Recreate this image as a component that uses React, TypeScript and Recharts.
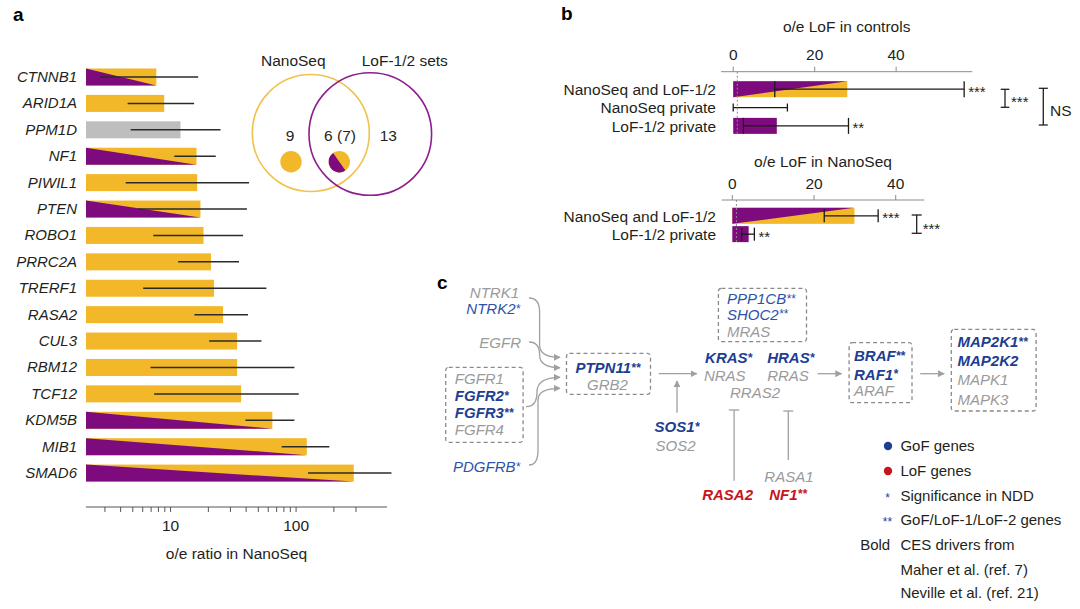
import React from 'react';
import { BarChart, Bar, XAxis, YAxis, ErrorBar, ReferenceLine, ReferenceDot } from 'recharts';

const FONT = '"Liberation Sans", Arial, Helvetica, sans-serif';
const YELLOW = '#F2B829';
const PURPLE = '#7D0B7D';
const GRAY_BAR = '#BEBEBE';
const INK = '#231F20';
const BLUE = '#1D3E92';
const BLUE_LIGHT = '#2D52AA';
const RED = '#C8141C';
const GRAY_TXT = '#9A9A9A';
const LINE_GRAY = '#A0A0A0';

// ---------- Panel a data ----------
const genesA = ['CTNNB1', 'ARID1A', 'PPM1D', 'NF1', 'PIWIL1', 'PTEN', 'ROBO1', 'PRRC2A', 'TRERF1', 'RASA2', 'CUL3', 'RBM12', 'TCF12', 'KDM5B', 'MIB1', 'SMAD6'];
const oeA = [7.7, 8.9, 12.0, 16.1, 16.3, 17.3, 18.3, 21.0, 22.2, 26.2, 33.9, 33.9, 36.5, 64.7, 121.7, 288];
const lowA = [2.74, 4.55, 4.81, 10.7, 4.39, 5.52, 7.28, 11.5, 6.05, 15.5, 20.3, 6.93, 7.4, 39.5, 76.8, 124.5];
const highA = [16.6, 15.4, 25, 22.9, 42.2, 40.6, 37.8, 35.1, 58, 41.4, 53, 97, 105, 97, 184, 575];
const setA = ['both', 'nano', 'other', 'both', 'nano', 'both', 'nano', 'nano', 'nano', 'nano', 'nano', 'nano', 'nano', 'both', 'both', 'both'];
const ticksA = [3, 4, 5, 6, 7, 8, 9, 10, 20, 30, 40, 50, 60, 70, 80, 90, 100, 200, 300];
const labelledTicksA = [10, 100];

// ---------- Panel b data ----------
const groupsBTop = ['NanoSeq and LoF-1/2', 'NanoSeq private', 'LoF-1/2 private'];
const valueBTop = [28.0, 0, 10.7];
const lowBTop = [10.2, 0, 2.5];
const highBTop = [56.7, 13.3, 28.3];
const kindBTop = ['split', 'none', 'purple'];
const starsBTop = ['***', '', '**'];
const ticksB = [0, 20, 40];

const groupsBBot = ['NanoSeq and LoF-1/2', 'LoF-1/2 private'];
const valueBBot = [29.9, 4.0];
const lowBBot = [22.5, 2.3];
const highBBot = [35.7, 5.4];
const kindBBot = ['split', 'purple'];
const starsBBot = ['***', '**'];

const dataA = genesA.map((g, i) => ({
  gene: g,
  oe: oeA[i],
  err: [oeA[i] - lowA[i], highA[i] - oeA[i]],
  set: setA[i],
}));

const buildB = (groups: string[], vals: number[], lows: number[], highs: number[], kinds: string[], stars: string[]) =>
  groups.map((g, i) => {
    const e = [vals[i] - lows[i], highs[i] - vals[i]];
    return {
      group: g,
      value: vals[i],
      err: kinds[i] !== 'none' ? e : undefined,
      err2: kinds[i] === 'none' ? e : undefined,
      high: highs[i],
      kind: kinds[i],
      stars: stars[i],
    };
  });

const dataBTop = buildB(groupsBTop, valueBTop, lowBTop, highBTop, kindBTop, starsBTop);
const dataBBot = buildB(groupsBBot, valueBBot, lowBBot, highBBot, kindBBot, starsBBot);

const ShapeA = (props: any) => {
  const { x, y, width, height, payload } = props;
  if (!width || width <= 0) return null;
  const fill = payload.set === 'other' ? GRAY_BAR : YELLOW;
  return (
    <g>
      <rect x={x} y={y} width={width} height={height} fill={fill} />
      {payload.set === 'both' && (
        <polygon points={`${x},${y} ${x},${y + height} ${x + width},${y + height}`} fill={PURPLE} />
      )}
    </g>
  );
};

const ShapeB = (props: any) => {
  const { x, y, width, height, payload } = props;
  if (!width || width <= 0.5) return null;
  if (payload.kind === 'split') {
    return (
      <g>
        <rect x={x} y={y} width={width} height={height} fill={YELLOW} />
        <polygon points={`${x},${y} ${x + width},${y} ${x},${y + height}`} fill={PURPLE} />
      </g>
    );
  }
  return <rect x={x} y={y} width={width} height={height} fill={PURPLE} />;
};

const Gene = ({ x, y, name, stars = '', color, bold = false, anchor = 'start', size = 15 }: any) => (
  <text x={x} y={y + size * 0.36} textAnchor={anchor} fontStyle="italic" fontWeight={bold ? 700 : 400} fill={color} fontSize={size}>
    {name}
    {stars ? (
      <tspan fontSize={size * 0.8} dy={-1.5}>
        {stars}
      </tspan>
    ) : null}
  </text>
);

const pathwayNodes = [
  { name: 'NTRK1', x: 519, y: 292.7, anchor: 'end', color: GRAY_TXT },
  { name: 'NTRK2', stars: '*', x: 520.2, y: 309, anchor: 'end', color: BLUE_LIGHT },
  { name: 'EGFR', x: 521, y: 342.3, anchor: 'end', color: GRAY_TXT },
  { name: 'FGFR1', x: 454.8, y: 379, color: GRAY_TXT },
  { name: 'FGFR2', stars: '*', x: 454.8, y: 396, color: BLUE, bold: true },
  { name: 'FGFR3', stars: '**', x: 454.8, y: 412.7, color: BLUE, bold: true },
  { name: 'FGFR4', x: 454.8, y: 430, color: GRAY_TXT },
  { name: 'PDGFRB', stars: '*', x: 520.2, y: 466.7, anchor: 'end', color: BLUE_LIGHT },
  { name: 'PTPN11', stars: '**', x: 607.9, y: 367.7, anchor: 'middle', color: BLUE, bold: true },
  { name: 'GRB2', x: 607.5, y: 384.3, anchor: 'middle', color: GRAY_TXT },
  { name: 'PPP1CB', stars: '**', x: 727, y: 299, color: BLUE_LIGHT },
  { name: 'SHOC2', stars: '**', x: 727, y: 314.3, color: BLUE_LIGHT },
  { name: 'MRAS', x: 727, y: 331.7, color: GRAY_TXT },
  { name: 'KRAS', stars: '*', x: 705.1, y: 357.7, color: BLUE, bold: true },
  { name: 'HRAS', stars: '*', x: 767.2, y: 357.7, color: BLUE, bold: true },
  { name: 'NRAS', x: 703.9, y: 375.3, color: GRAY_TXT },
  { name: 'RRAS', x: 767.2, y: 375.3, color: GRAY_TXT },
  { name: 'RRAS2', x: 730, y: 392.3, color: GRAY_TXT },
  { name: 'SOS1', stars: '*', x: 654.6, y: 426.7, color: BLUE, bold: true },
  { name: 'SOS2', x: 655.5, y: 445.7, color: GRAY_TXT },
  { name: 'RASA1', x: 764.3, y: 476.7, color: GRAY_TXT },
  { name: 'RASA2', x: 702.2, y: 494.3, color: RED, bold: true },
  { name: 'NF1', stars: '**', x: 769.2, y: 494.3, color: RED, bold: true },
  { name: 'BRAF', stars: '**', x: 854, y: 356, color: BLUE, bold: true },
  { name: 'RAF1', stars: '*', x: 854, y: 374.3, color: BLUE, bold: true },
  { name: 'ARAF', x: 854, y: 391, color: GRAY_TXT },
  { name: 'MAP2K1', stars: '**', x: 957.5, y: 341.7, color: BLUE, bold: true },
  { name: 'MAP2K2', x: 957.5, y: 360.7, color: BLUE, bold: true },
  { name: 'MAPK1', x: 957.5, y: 380, color: GRAY_TXT },
  { name: 'MAPK3', x: 957.5, y: 399.3, color: GRAY_TXT },
];

const Bracket = ({ x, y1, y2, half }: any) => (
  <g stroke={INK} strokeWidth={1.3}>
    <line x1={x} y1={y1} x2={x} y2={y2} />
    <line x1={x - half} y1={y1} x2={x + half} y2={y1} />
    <line x1={x - half} y1={y2} x2={x + half} y2={y2} />
  </g>
);

const splitDot = (cx: number, cy: number, r: number) => {
  const a = (125 * Math.PI) / 180;
  const x1 = cx + r * Math.cos(a);
  const y1 = cy - r * Math.sin(a);
  const x2 = cx - r * Math.cos(a);
  const y2 = cy + r * Math.sin(a);
  return `M${x1},${y1} A${r},${r} 0 0 0 ${x2},${y2} Z`;
};

export default function App() {
  const axisTick = { fontSize: 15.5, fill: INK };
  const LEG = 15;
  return (
    <div style={{ position: 'absolute', left: 0, top: 0, width: 1080, height: 609, background: '#fff', overflow: 'hidden', fontFamily: FONT }}>
      {/* Panel a bar chart */}
      <div style={{ position: 'absolute', left: 0, top: 0 }}>
        <BarChart width={420} height={609} data={dataA} layout="vertical" margin={{ top: 63.5, right: 33, bottom: 42, left: 0 }} barSize={17}>
          <XAxis
            type="number"
            scale="log"
            domain={[2.12, 530]}
            allowDataOverflow
            ticks={ticksA}
            interval={0}
            tickFormatter={(v: number) => (labelledTicksA.includes(v) ? String(v) : '')}
            height={60}
            tickSize={5}
            tickMargin={8}
            stroke="#555"
            tick={axisTick}
            label={{ value: 'o/e ratio in NanoSeq', position: 'insideBottom', offset: 8.5, fontSize: 15.5, fill: INK }}
          />
          <YAxis
            type="category"
            dataKey="gene"
            width={86}
            tickSize={0}
            tickMargin={9}
            axisLine={false}
            tickLine={false}
            padding={{ top: 0, bottom: 21 }}
            interval={0}
            tick={{ fontSize: 15, fontStyle: 'italic', fill: INK }}
          />
          <Bar dataKey="oe" shape={ShapeA} isAnimationActive={false}>
            <ErrorBar dataKey="err" direction="x" width={0} stroke="#2b2b2b" strokeWidth={1.5} isAnimationActive={false} />
          </Bar>
        </BarChart>
      </div>

      {/* Panel b top */}
      <div style={{ position: 'absolute', left: 560, top: 0 }}>
        <BarChart width={520} height={150} data={dataBTop} layout="vertical" margin={{ top: 15.7, right: 107.7, bottom: 14.8, left: 0 }} barSize={16}>
          <XAxis
            type="number"
            orientation="top"
            domain={[-3, 58.7]}
            allowDataOverflow
            ticks={ticksB}
            interval={0}
            height={56}
            tickSize={5}
            tickMargin={7}
            stroke="#8c8c8c"
            tick={axisTick}
            label={{ value: 'o/e LoF in controls', position: 'insideTop', offset: 5, fontSize: 15.5, fill: INK }}
          />
          <YAxis type="category" dataKey="group" width={161} tickSize={0} tickMargin={5} axisLine={false} tickLine={false} padding={{ top: 8.5, bottom: 0 }} interval={0} tick={axisTick} />
          <Bar dataKey="value" shape={ShapeB} isAnimationActive={false}>
            <ErrorBar dataKey="err" direction="x" width={8} stroke="#1a1a1a" strokeWidth={1.3} isAnimationActive={false} />
            <ErrorBar dataKey="err2" direction="x" width={4} stroke="#1a1a1a" strokeWidth={1.3} isAnimationActive={false} />
          </Bar>
          <ReferenceLine x={1} stroke="#8c8c8c" strokeDasharray="2 2" />
          {dataBTop
            .filter((d) => d.stars)
            .map((d) => (
              <ReferenceDot key={d.group} x={d.high} y={d.group} r={0} fill="none" stroke="none" label={{ value: d.stars, position: 'right', offset: 4, fontSize: 15, fill: INK, dy: 2 }} />
            ))}
        </BarChart>
      </div>

      {/* Panel b bottom */}
      <div style={{ position: 'absolute', left: 560, top: 140 }}>
        <BarChart width={520} height={110} data={dataBBot} layout="vertical" margin={{ top: 10, right: 155.7, bottom: 6.55, left: 0 }} barSize={16}>
          <XAxis
            type="number"
            orientation="top"
            domain={[-2.6, 47]}
            allowDataOverflow
            ticks={ticksB}
            interval={0}
            height={50}
            tickSize={5}
            tickMargin={6}
            stroke="#8c8c8c"
            tick={axisTick}
            label={{ value: 'o/e LoF in NanoSeq', position: 'insideTop', offset: 6.2, fontSize: 15.5, fill: INK }}
          />
          <YAxis type="category" dataKey="group" width={161.7} tickSize={0} tickMargin={5.7} axisLine={false} tickLine={false} padding={{ top: 6.85, bottom: 0 }} interval={0} tick={axisTick} />
          <Bar dataKey="value" shape={ShapeB} isAnimationActive={false}>
            <ErrorBar dataKey="err" direction="x" width={6.5} stroke="#1a1a1a" strokeWidth={1.3} isAnimationActive={false} />
          </Bar>
          <ReferenceLine x={1} stroke="#8c8c8c" strokeDasharray="2 2" />
          {dataBBot
            .filter((d) => d.stars)
            .map((d) => (
              <ReferenceDot key={d.group} x={d.high} y={d.group} r={0} fill="none" stroke="none" label={{ value: d.stars, position: 'right', offset: 4, fontSize: 15, fill: INK, dy: 2 }} />
            ))}
        </BarChart>
      </div>

      {/* Overlay: letters, Venn, brackets, pathway */}
      <svg width={1080} height={609} style={{ position: 'absolute', left: 0, top: 0, pointerEvents: 'none' }} fontFamily={FONT}>
        <defs>
          <marker id="ah" viewBox="0 0 10 10" refX="9" refY="5" markerWidth="7" markerHeight="7" markerUnits="userSpaceOnUse" orient="auto">
            <path d="M0,0 L10,5 L0,10 z" fill={LINE_GRAY} />
          </marker>
        </defs>

        <text x={13} y={20.5} fontSize={19} fontWeight={700} fill="#000">a</text>
        <text x={561} y={20} fontSize={19} fontWeight={700} fill="#000">b</text>
        <text x={437} y={289} fontSize={19} fontWeight={700} fill="#000">c</text>

        {/* Venn */}
        <circle cx={310.8} cy={133} r={58.5} fill="none" stroke="#F0C24F" strokeWidth={1.6} />
        <circle cx={370.3} cy={134} r={61.3} fill="none" stroke="#8E1D8E" strokeWidth={1.6} />
        <text x={293.3} y={60.7} fontSize={15.5} fill={INK} textAnchor="middle" dominantBaseline="central">NanoSeq</text>
        <text x={361.7} y={60.7} fontSize={15.5} fill={INK} dominantBaseline="central">LoF-1/2 sets</text>
        <text x={290} y={135.7} fontSize={15.5} fill={INK} textAnchor="middle" dominantBaseline="central">9</text>
        <text x={340} y={135.7} fontSize={15.5} fill={INK} textAnchor="middle" dominantBaseline="central">6 (7)</text>
        <text x={388.3} y={135.7} fontSize={15.5} fill={INK} textAnchor="middle" dominantBaseline="central">13</text>
        <circle cx={291} cy={161.7} r={10.7} fill={YELLOW} />
        <circle cx={339.3} cy={161.7} r={10.7} fill={YELLOW} />
        <path d={splitDot(339.3, 161.7, 10.7)} fill={PURPLE} />

        {/* Panel b brackets */}
        <Bracket x={1005} y1={89.3} y2={107.3} half={4.3} />
        <text x={1011} y={107} fontSize={15} fill={INK}>***</text>
        <Bracket x={1043.3} y1={88.3} y2={125} half={4.5} />
        <text x={1050} y={110} fontSize={15.5} fill={INK} dominantBaseline="central">NS</text>
        <Bracket x={916.7} y1={215} y2={233.3} half={5} />
        <text x={922.7} y={233.7} fontSize={15} fill={INK}>***</text>

        {/* Panel c boxes */}
        <g fill="none" stroke="#8a8a8a" strokeWidth={1.3} strokeDasharray="4 3">
          <rect x={445.7} y={367.3} width={77.4} height={75} rx={3} />
          <rect x={566.5} y={353.3} width={84} height={41} rx={3} />
          <rect x={718.4} y={288.3} width={88.1} height={53.4} rx={3} />
          <rect x={849.1} y={342.7} width={62.9} height={60} rx={3} />
          <rect x={951.3} y={329.3} width={84.8} height={81.7} rx={3} />
        </g>

        {/* Panel c arrows */}
        <g fill="none" stroke={LINE_GRAY} strokeWidth={1.3}>
          <path d="M529,298 Q539.6,298 539.6,312 L539.6,345 Q539.6,357.3 560,357.3" markerEnd="url(#ah)" />
          <path d="M529,342 Q539.6,342 539.6,355 Q539.6,367.7 560,367.7" markerEnd="url(#ah)" />
          <path d="M526,406.7 Q537,406.7 537,392 Q537,377.3 560,377.3" markerEnd="url(#ah)" />
          <path d="M529,465 Q538,465 538,450 L538,400 Q538,388.3 560,388.3" markerEnd="url(#ah)" />
          <path d="M658.8,373.7 L696.8,373.7" markerEnd="url(#ah)" />
          <path d="M677,412.7 L677,381" markerEnd="url(#ah)" />
          <path d="M817.6,373.7 L841.6,373.7" markerEnd="url(#ah)" />
          <path d="M920.2,373.7 L944.2,373.7" markerEnd="url(#ah)" />
          <line x1={734.1} y1={410} x2={734.1} y2={480.7} />
          <line x1={728.9} y1={410} x2={739.3} y2={410} />
          <line x1={788.3} y1={411} x2={788.3} y2={460} />
          <line x1={783.3} y1={411} x2={793.3} y2={411} />
        </g>

        {pathwayNodes.map((n) => (
          <Gene key={n.name} {...n} />
        ))}

        {/* Panel c legend */}
        <circle cx={888} cy={446} r={4.2} fill={BLUE} />
        <text x={900.4} y={445.7} fontSize={LEG} fill={INK} dominantBaseline="central">GoF genes</text>
        <circle cx={888} cy={471} r={4.2} fill={RED} />
        <text x={900.4} y={470.7} fontSize={LEG} fill={INK} dominantBaseline="central">LoF genes</text>
        <text x={887.5} y={502} fontSize={12} fill={BLUE} textAnchor="middle">*</text>
        <text x={900.4} y={495} fontSize={LEG} fill={INK} dominantBaseline="central">Significance in NDD</text>
        <text x={887.5} y={526} fontSize={12} fill={BLUE} textAnchor="middle">**</text>
        <text x={900.4} y={519} fontSize={LEG} fill={INK} dominantBaseline="central">GoF/LoF-1/LoF-2 genes</text>
        <text x={860.2} y={544} fontSize={LEG} fill={INK} dominantBaseline="central">Bold</text>
        <text x={900.4} y={544} fontSize={LEG} fill={INK} dominantBaseline="central">CES drivers from</text>
        <text x={900.4} y={569} fontSize={LEG} fill={INK} dominantBaseline="central">Maher et al. (ref. 7)</text>
        <text x={900.4} y={592.7} fontSize={LEG} fill={INK} dominantBaseline="central">Neville et al. (ref. 21)</text>
      </svg>
    </div>
  );
}
